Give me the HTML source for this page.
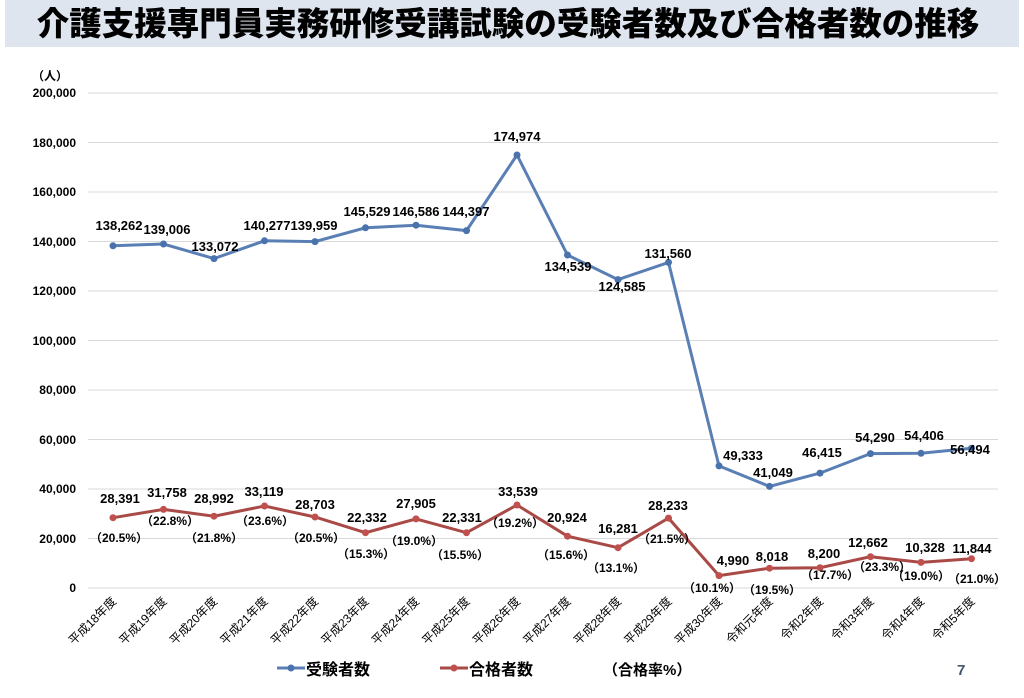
<!DOCTYPE html>
<html><head><meta charset="utf-8"><style>
html,body{margin:0;padding:0;background:#fff;width:1024px;height:698px;overflow:hidden}
svg{display:block;font-family:"Liberation Sans","Noto Sans CJK JP",sans-serif}
</style></head><body>
<svg width="1024" height="698" viewBox="0 0 1024 698">
<rect x="5" y="0" width="1014" height="47" fill="#dfe5ef"/>
<text x="508" y="35" text-anchor="middle" font-size="32.5" font-weight="900" fill="#000" font-family="'Noto Sans CJK JP',sans-serif">介護支援専門員実務研修受講試験の受験者数及び合格者数の推移</text>
<g stroke="#d9d9d9" stroke-width="1">
<line x1="88" x2="998" y1="93" y2="93"/><line x1="88" x2="998" y1="142.5" y2="142.5"/><line x1="88" x2="998" y1="192" y2="192"/><line x1="88" x2="998" y1="241.5" y2="241.5"/><line x1="88" x2="998" y1="291" y2="291"/><line x1="88" x2="998" y1="340.5" y2="340.5"/><line x1="88" x2="998" y1="390" y2="390"/><line x1="88" x2="998" y1="439.5" y2="439.5"/><line x1="88" x2="998" y1="489" y2="489"/><line x1="88" x2="998" y1="538.5" y2="538.5"/><line x1="88" x2="998" y1="588" y2="588"/>
</g>
<g font-size="12" font-weight="bold" text-anchor="end" fill="#000">
<text x="76" y="97">200,000</text><text x="76" y="147">180,000</text><text x="76" y="196">160,000</text><text x="76" y="246">140,000</text><text x="76" y="295">120,000</text><text x="76" y="345">100,000</text><text x="76" y="394">80,000</text><text x="76" y="444">60,000</text><text x="76" y="493">40,000</text><text x="76" y="543">20,000</text><text x="76" y="592">0</text>
</g>
<text x="32" y="80" font-size="12" font-weight="bold">（人）</text>
<polyline fill="none" stroke="#5a7fb5" stroke-width="3" points="113,245.8 163.5,244 214,258.6 264.5,240.8 315,241.6 365.5,227.8 416,225.2 466.5,230.6 517,155 567.5,255 618,279.6 668.5,262.4 719,465.9 769.5,486.4 820,473.1 870.5,453.6 921,453.3 971.5,448.2"/>
<g fill="#4a72ac">
<circle cx="113" cy="245.8" r="3.5"/><circle cx="163.5" cy="244" r="3.5"/><circle cx="214" cy="258.6" r="3.5"/><circle cx="264.5" cy="240.8" r="3.5"/><circle cx="315" cy="241.6" r="3.5"/><circle cx="365.5" cy="227.8" r="3.5"/><circle cx="416" cy="225.2" r="3.5"/><circle cx="466.5" cy="230.6" r="3.5"/><circle cx="517" cy="155" r="3.5"/><circle cx="567.5" cy="255" r="3.5"/><circle cx="618" cy="279.6" r="3.5"/><circle cx="668.5" cy="262.4" r="3.5"/><circle cx="719" cy="465.9" r="3.5"/><circle cx="769.5" cy="486.4" r="3.5"/><circle cx="820" cy="473.1" r="3.5"/><circle cx="870.5" cy="453.6" r="3.5"/><circle cx="921" cy="453.3" r="3.5"/><circle cx="971.5" cy="448.2" r="3.5"/>
</g>
<polyline fill="none" stroke="#a94a47" stroke-width="3" points="113,517.7 163.5,509.4 214,516.2 264.5,506 315,517 365.5,532.7 416,518.9 466.5,532.7 517,505 567.5,536.2 618,547.7 668.5,518.1 719,575.6 769.5,568.2 820,567.7 870.5,556.7 921,562.4 971.5,558.7"/>
<g fill="#c0504d">
<circle cx="113" cy="517.7" r="3.5"/><circle cx="163.5" cy="509.4" r="3.5"/><circle cx="214" cy="516.2" r="3.5"/><circle cx="264.5" cy="506" r="3.5"/><circle cx="315" cy="517" r="3.5"/><circle cx="365.5" cy="532.7" r="3.5"/><circle cx="416" cy="518.9" r="3.5"/><circle cx="466.5" cy="532.7" r="3.5"/><circle cx="517" cy="505" r="3.5"/><circle cx="567.5" cy="536.2" r="3.5"/><circle cx="618" cy="547.7" r="3.5"/><circle cx="668.5" cy="518.1" r="3.5"/><circle cx="719" cy="575.6" r="3.5"/><circle cx="769.5" cy="568.2" r="3.5"/><circle cx="820" cy="567.7" r="3.5"/><circle cx="870.5" cy="556.7" r="3.5"/><circle cx="921" cy="562.4" r="3.5"/><circle cx="971.5" cy="558.7" r="3.5"/>
</g>
<g font-size="13" font-weight="bold" text-anchor="middle" fill="#000">
<text x="119" y="230">138,262</text><text x="167" y="234">139,006</text><text x="215" y="251">133,072</text><text x="267" y="230">140,277</text><text x="314" y="230">139,959</text><text x="367" y="216">145,529</text><text x="416" y="216">146,586</text><text x="466" y="216">144,397</text><text x="517" y="141">174,974</text><text x="568" y="271">134,539</text><text x="622" y="291">124,585</text><text x="668" y="258">131,560</text><text x="743" y="460">49,333</text><text x="773" y="477">41,049</text><text x="822" y="457">46,415</text><text x="875" y="442">54,290</text><text x="924" y="440">54,406</text><text x="970" y="454">56,494</text>
<text x="120" y="503">28,391</text><text x="167" y="497">31,758</text><text x="214" y="503">28,992</text><text x="264" y="496">33,119</text><text x="315" y="509">28,703</text><text x="367" y="522">22,332</text><text x="416" y="508">27,905</text><text x="462" y="522">22,331</text><text x="518" y="496">33,539</text><text x="567" y="522">20,924</text><text x="618" y="533">16,281</text><text x="668" y="510">28,233</text><text x="733" y="565">4,990</text><text x="772" y="561">8,018</text><text x="824" y="558">8,200</text><text x="868" y="547">12,662</text><text x="925" y="552">10,328</text><text x="972" y="553">11,844</text>
</g>
<g font-size="12" font-weight="bold" text-anchor="middle" fill="#000">
<text x="119" y="542">（20.5%）</text><text x="170" y="525">（22.8%）</text><text x="214" y="542">（21.8%）</text><text x="265" y="525">（23.6%）</text><text x="316" y="542">（20.5%）</text><text x="366" y="558">（15.3%）</text><text x="414" y="545">（19.0%）</text><text x="460" y="559">（15.5%）</text><text x="515" y="527">（19.2%）</text><text x="566" y="559">（15.6%）</text><text x="616" y="572">（13.1%）</text><text x="667" y="543">（21.5%）</text><text x="712" y="592">（10.1%）</text><text x="772" y="594">（19.5%）</text><text x="830" y="579">（17.7%）</text><text x="882" y="571">（23.3%）</text><text x="921" y="580">（19.0%）</text><text x="977" y="583">（21.0%）</text>
</g>
<g font-size="12" fill="#000" text-anchor="end">
<text transform="translate(117,602) rotate(-45)">平成18年度</text><text transform="translate(167.5,602) rotate(-45)">平成19年度</text><text transform="translate(218,602) rotate(-45)">平成20年度</text><text transform="translate(268.5,602) rotate(-45)">平成21年度</text><text transform="translate(319,602) rotate(-45)">平成22年度</text><text transform="translate(369.5,602) rotate(-45)">平成23年度</text><text transform="translate(420,602) rotate(-45)">平成24年度</text><text transform="translate(470.5,602) rotate(-45)">平成25年度</text><text transform="translate(521,602) rotate(-45)">平成26年度</text><text transform="translate(571.5,602) rotate(-45)">平成27年度</text><text transform="translate(622,602) rotate(-45)">平成28年度</text><text transform="translate(672.5,602) rotate(-45)">平成29年度</text><text transform="translate(723,602) rotate(-45)">平成30年度</text><text transform="translate(773.5,602) rotate(-45)">令和元年度</text><text transform="translate(824,602) rotate(-45)">令和2年度</text><text transform="translate(874.5,602) rotate(-45)">令和3年度</text><text transform="translate(925,602) rotate(-45)">令和4年度</text><text transform="translate(975.5,602) rotate(-45)">令和5年度</text>
</g>
<line x1="277" x2="305" y1="668" y2="668" stroke="#5a7fb5" stroke-width="3"/><circle cx="291" cy="668" r="3.5" fill="#4a72ac"/>
<text x="306" y="675" font-size="16" font-weight="bold">受験者数</text>
<line x1="440" x2="468" y1="668" y2="668" stroke="#a94a47" stroke-width="3"/><circle cx="454" cy="668" r="3.5" fill="#c0504d"/>
<text x="469" y="675" font-size="16" font-weight="bold">合格者数</text>
<text x="603" y="675" font-size="15" font-weight="bold">（合格率%）</text>
<text x="957" y="675" font-size="15" font-weight="bold" fill="#44546a">7</text>
</svg>
</body></html>
